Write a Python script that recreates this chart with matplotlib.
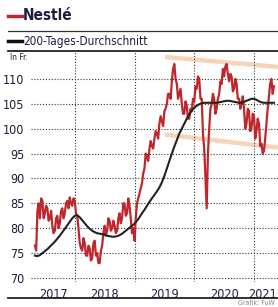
"""
Nestlé-Aktie mit 200-Tages-Durchschnitt (Nachbau der FuW-Grafik).
Werte von Hand aus der Vorlage abgelesen.
"""

import pandas as pd
import matplotlib
matplotlib.use("Agg")
import matplotlib.pyplot as plt
from matplotlib.lines import Line2D

# Schrift (schmal, wie in der Vorlage)
plt.rcParams['font.family'] = ['DejaVu Sans']
plt.rcParams['font.stretch'] = 'condensed'

# Daten - Kurs etwa wöchentlich, Durchschnitt halbmonatlich
start, ende = '2017-05-01', '2021-05-01'
kurs = [76.5, 75.5, 83.5, 85, 82, 86, 85.5, 82, 83, 84.5,
        84, 81.5, 82, 83.5, 80.5, 79, 79.5, 82, 82.5, 80,
        81, 83.5, 84, 82, 83, 85, 85.5, 84, 86.2, 85,
        84.5, 86, 85.5, 83, 82.5, 80, 77, 76, 75.5, 78,
        77, 74.5, 74.5, 76.5, 76, 73.5, 74, 77, 77.5, 74.5,
        75, 73, 73, 75.5, 76.5, 79, 80.5, 78.5, 79.5, 82,
        81.5, 79.5, 80, 81.5, 80.5, 79, 79.5, 82, 83, 81,
        82, 85, 85, 82.5, 83, 86, 84.5, 82, 79, 80,
        77.5, 82, 85, 86, 87, 88, 89, 91, 92, 95,
        94.5, 93.5, 96, 97.5, 96.5, 96, 98, 99.5, 99, 98,
        101, 102.5, 101.5, 100.5, 103.5, 104, 105, 107, 107, 106,
        109.5, 112, 113, 110, 109, 106, 107, 108, 105, 103,
        103, 105.5, 104.5, 102, 102, 104, 103.5, 106, 105.5, 108.5,
        108, 110.5, 110, 106, 106, 99, 96, 90, 84, 95,
        100, 104, 105, 107, 106, 103, 104, 106, 107, 109.5,
        109, 112, 110.5, 112.5, 113, 111, 109.5, 111, 110.5, 107.5,
        108, 110, 109, 106, 106, 104, 105, 106.5, 104, 100,
        101, 104, 103.5, 99.5, 100, 103, 102.5, 98, 99.5, 102,
        101, 96.5, 97, 95, 95.5, 98, 101, 104, 106.5, 109,
        110, 107, 108.5]
schnitt200 = [74.5, 74.4, 74.6, 75, 75.4, 75.8, 76.3, 76.8, 77.3, 77.9,
              78.5, 79.2, 79.9, 80.6, 81.3, 82, 82.5, 82.6, 82.2, 81.6,
              81, 80.4, 79.9, 79.5, 79.2, 79, 78.9, 78.8, 78.7, 78.5,
              78.4, 78.3, 78.3, 78.4, 78.6, 78.9, 79.3, 79.7, 80.1, 80.5,
              80.9, 81.5, 82.2, 83, 83.7, 84.5, 85.3, 86, 86.7, 87.4,
              88.2, 89.2, 90.5, 92, 93.5, 95, 96.4, 97.7, 99, 100,
              101, 102, 102.9, 103.6, 104.2, 104.6, 104.9, 105.1, 105.2, 105.2,
              105.2, 105.2, 105.2, 105.2, 105.3, 105.4, 105.5, 105.6, 105.6, 105.5,
              105.4, 105.3, 105.2, 105.2, 105.4, 105.6, 105.8, 106, 106, 105.8,
              105.5, 105.3, 105.2, 105.2, 105.2, 105.2, 105.2]

# Trendkanal (oben/unten)
kanal_datum = ['2019-07-05', '2021-05-25']
kanal_oben = [114.4, 112.4]
kanal_unten = [98.8, 96.2]

jahre = [2017, 2018, 2019, 2020, 2021]
yticks = [70, 75, 80, 85, 90, 95, 100, 105, 110]

datum_kurs = pd.date_range(start, ende, periods=len(kurs))
datum_schnitt = pd.date_range(start, ende, periods=len(schnitt200))

# Farben
rot = '#c0272d'
navy = '#1d1d3c'
kanal = '#f6caa6'

W, H = 278, 307
fig = plt.figure(figsize=(W/100, H/100), dpi=100)
ax = fig.add_axes([31/W, 1 - 282/H, (W-31)/W, (282-51)/H])

# Trendkanal
for k in (kanal_oben, kanal_unten):
    ax.plot(pd.to_datetime(kanal_datum), k, color=kanal, lw=3.2,
            alpha=0.8, solid_capstyle='butt', zorder=1)

# Kurs und Durchschnitt
ax.plot(datum_kurs, kurs, color=rot, lw=1.6, zorder=3)
ax.plot(datum_schnitt, schnitt200, color='#222222', lw=1.5, zorder=4)

xmin, xmax = pd.Timestamp('2017-04-07'), pd.Timestamp('2021-05-26')
ax.set_xlim(xmin, xmax)
ax.set_ylim(69.2, 115.6)

# Achsen
ax.set_yticks(yticks)
ax.set_yticklabels([str(t) for t in yticks], fontsize=9, color=navy)
ax.set_xticks([pd.Timestamp(f'{j}-01-01') for j in jahre[1:]])
ax.set_xticklabels([])
ax.tick_params(length=0, pad=5)
for s in ax.spines.values():
    s.set_visible(False)
ax.grid(True, color='#333333', lw=0.8, linestyle=(0, (1, 1.6)))

# Jahreszahlen mittig im sichtbaren Jahresabschnitt
for j in jahre:
    a = max(pd.Timestamp(f'{j}-01-01'), xmin)
    b = min(pd.Timestamp(f'{j+1}-01-01'), xmax)
    if b == xmax:
        # letztes Jahr: rechtsbündig an den Rand
        ax.text(1 - 1.5/(W-31), -0.025, str(j), transform=ax.transAxes,
                ha='right', va='top', fontsize=9, color=navy)
        continue
    mitte = a + (b - a) / 2
    ax.text(mitte, -0.025, str(j), transform=ax.get_xaxis_transform(),
            ha='center', va='top', fontsize=9, color=navy)

ax.text(-21/(W-31), 1 - 7/(282-51), 'In Fr.', transform=ax.transAxes,
        fontsize=6, color=navy, ha='left', va='center')

# Kopf: Legende und Linien
fig.add_artist(Line2D([8/W, 22/W], [1-16/H, 1-16/H], color=rot, lw=2.5))
fig.text(23/W, 1-16/H, 'Nestlé', fontsize=11, fontweight='bold',
         color=navy, va='center', ha='left')
fig.add_artist(Line2D([8/W, 1], [1-30.5/H, 1-30.5/H], color='#333333', lw=0.9))
fig.add_artist(Line2D([8/W, 22/W], [1-41/H, 1-41/H], color='#111111', lw=2.5))
fig.text(23/W, 1-41/H, '200-Tages-Durchschnitt', fontsize=8.5,
         color=navy, va='center', ha='left')
fig.add_artist(Line2D([8/W, 1], [1-51/H, 1-51/H], color='#222222', lw=1.3))
fig.add_artist(Line2D([8/W, 1], [1-298/H, 1-298/H], color='#222222', lw=1.3))
fig.text(0.99, 1-303/H, 'Grafik: FuW', fontsize=5, color='#888888',
         va='center', ha='right')

fig.savefig('out.png', dpi=100)
